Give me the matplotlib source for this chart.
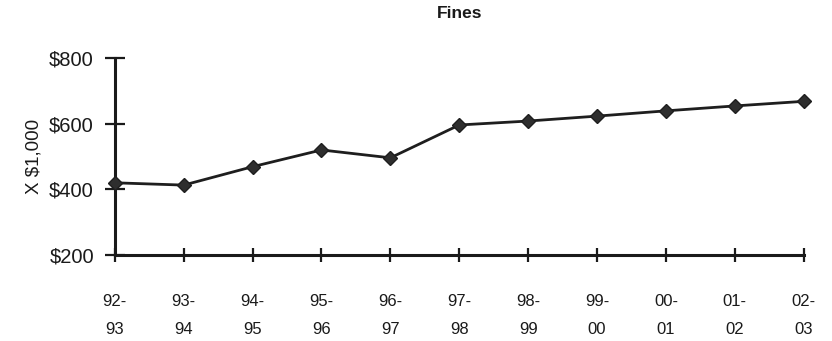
import matplotlib
matplotlib.use("Agg")
import matplotlib.pyplot as plt

plt.rcParams['font.family'] = ['Liberation Sans', 'DejaVu Sans']

# fiscal years and fines collected (thousands of dollars)
years = ['92-\n93', '93-\n94', '94-\n95', '95-\n96', '96-\n97', '97-\n98',
         '98-\n99', '99-\n00', '00-\n01', '01-\n02', '02-\n03']
fines = [420, 413, 469, 520, 496, 596, 608, 623, 639, 654, 668]
yticks = [200, 400, 600, 800]
ytick_labels = ['$200', '$400', '$600', '$800']

fig = plt.figure(figsize=(8.32, 3.41), dpi=100)
ax = fig.add_axes([0.138, 0.252, 0.828, 0.578])

x = list(range(len(years)))
ax.plot(x, fines, color='#1e1e1e', lw=2, marker='D', markersize=7.5,
        markerfacecolor='#2e2e2e', markeredgecolor='#1e1e1e', clip_on=False, zorder=3)

ax.set_xlim(0, len(years) - 1)
ax.set_ylim(200, 800)
ax.set_xticks(x)
ax.set_xticklabels(years, fontsize=12, linespacing=2.1, color='#1a1a1a')
ax.set_yticks(yticks)
ax.set_yticklabels(ytick_labels, fontsize=14.5, color='#1a1a1a')

for side in ['top', 'right']:
    ax.spines[side].set_visible(False)
for side in ['left', 'bottom']:
    ax.spines[side].set_linewidth(2.2)
    ax.spines[side].set_color('#1a1a1a')

ax.tick_params(axis='x', direction='inout', length=10, width=1.6, pad=23, colors='#1a1a1a')
ax.tick_params(axis='y', direction='inout', length=14, width=1.6, pad=8, colors='#1a1a1a')

ax.set_ylabel('X $1,000', fontsize=13.5, labelpad=5, color='#1a1a1a')
ax.set_title('Fines', fontsize=12.5, fontweight='bold', pad=29, color='#1a1a1a')

fig.savefig('out.png', dpi=100)
